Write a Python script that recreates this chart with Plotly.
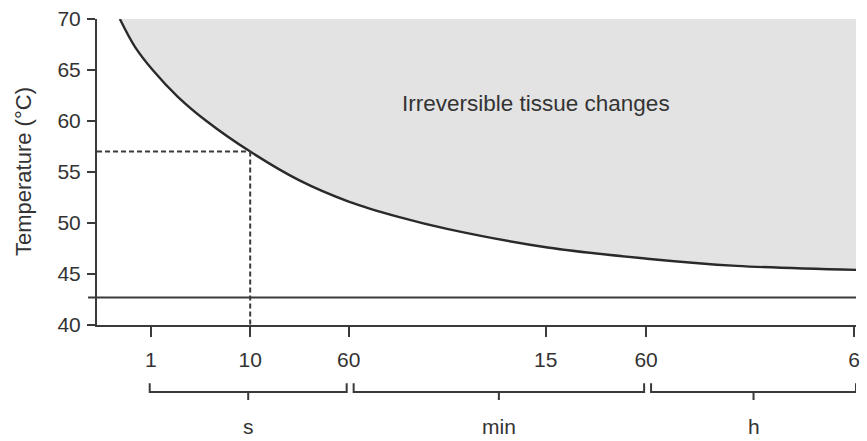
import plotly.graph_objects as go

# ---- data ----
tick_pos = [0, 1, 1.99, 3.97, 4.98, 7.07]
tick_text = ["1", "10", "60", "15", "60", "6"]
group_names = ["s", "min", "h"]
group_spans = [(0, 2), (2, 4), (4, 5)]  # tick index ranges

curve_x = [-0.31, -0.16, 0.02, 0.27, 0.56, 1.0, 1.49, 1.99, 2.49, 2.99, 3.99, 4.99, 5.89, 7.09]
curve_T = [70.0, 67.3, 65.0, 62.4, 60.0, 57.0, 54.2, 52.1, 50.6, 49.4, 47.6, 46.5, 45.8, 45.4]

mark_x = 1.0     # 10 s
mark_T = 57.0
ref_T = 42.7
label_text = "Irreversible tissue changes"

x_range = [-0.54, 7.09]
y_range = [40, 70]

FONT = "Liberation Sans, Arial, sans-serif"
TXT = "#333333"
LINE = "#3a3a3a"

fig = go.Figure()

# fill region between curve and top
fig.add_trace(go.Scatter(x=curve_x, y=curve_T, mode="lines",
                         line=dict(width=0, shape="spline", smoothing=1, color="rgba(0,0,0,0)"),
                         hoverinfo="skip", showlegend=False))
fig.add_trace(go.Scatter(x=curve_x, y=[y_range[1]] * len(curve_x), mode="lines",
                         line=dict(width=0, color="rgba(0,0,0,0)"),
                         fill="tonexty", fillcolor="#e4e3e3",
                         hoverinfo="skip", showlegend=False))
# curve
fig.add_trace(go.Scatter(x=curve_x, y=curve_T, mode="lines",
                         line=dict(width=2.4, shape="spline", smoothing=1, color="#2a2a2a"),
                         showlegend=False))
# dashed guides
fig.add_trace(go.Scatter(x=[x_range[0], mark_x], y=[mark_T, mark_T], mode="lines",
                         line=dict(width=2, dash="5px,3px", color=LINE), showlegend=False))
fig.add_trace(go.Scatter(x=[mark_x, mark_x], y=[mark_T, y_range[0]], mode="lines",
                         line=dict(width=2, dash="5px,3px", color=LINE), showlegend=False))

# reference horizontal line
fig.add_shape(type="line", xref="paper", yref="y", x0=-9 / 763, x1=1.0,
              y0=ref_T, y1=ref_T, line=dict(color=LINE, width=2))

# brackets
y_bar, y_end, y_ctr, y_lab = -0.219, -0.19, -0.245, -0.331
last = len(tick_pos) - 1
for name, (a, b) in zip(group_names, group_spans):
    x0 = tick_pos[a] + (0.05 if a != 0 else -0.01)
    x1 = tick_pos[b] - (0.02 if b != last else -0.02)
    xc = (x0 + x1) / 2
    path = f"M {x0},{y_end} L {x0},{y_bar} L {x1},{y_bar} L {x1},{y_end} M {xc},{y_bar} L {xc},{y_ctr}"
    fig.add_shape(type="path", xref="x", yref="paper", path=path,
                  line=dict(color=LINE, width=2))
    fig.add_annotation(x=xc, y=y_lab, xref="x", yref="paper", text=name,
                       showarrow=False, yanchor="middle",
                       font=dict(family=FONT, size=21, color=TXT))

# region label
fig.add_annotation(x=3.87, y=61.7, xref="x", yref="y", text=label_text,
                   showarrow=False, font=dict(family=FONT, size=22.5, color=TXT))

# y title
fig.add_annotation(x=0, y=0.5, xref="paper", yref="paper", xshift=-74,
                   xanchor="center", yanchor="middle",
                   text="Temperature (°C)", textangle=-90, showarrow=False,
                   font=dict(family=FONT, size=22, color=TXT))

fig.update_layout(
    width=867, height=441,
    margin=dict(l=97, r=7, t=15, b=116),
    paper_bgcolor="white", plot_bgcolor="white",
    font=dict(family=FONT, size=21, color=TXT),
    showlegend=False,
)
fig.update_xaxes(range=x_range, tickvals=tick_pos, ticktext=tick_text,
                 showgrid=False, zeroline=False, showline=True, linecolor=LINE,
                 linewidth=2, ticks="outside", ticklen=10, tickwidth=2, tickcolor=LINE,
                 ticklabelstandoff=5, tickfont=dict(family=FONT, size=21, color=TXT))
fig.update_yaxes(range=y_range, tickvals=[40, 45, 50, 55, 60, 65, 70],
                 showgrid=False, zeroline=False, showline=True, linecolor=LINE,
                 linewidth=2, ticks="outside", ticklen=8, tickwidth=2, tickcolor=LINE,
                 ticklabelstandoff=2, tickfont=dict(family=FONT, size=21, color=TXT))

fig.write_html("out.html")
